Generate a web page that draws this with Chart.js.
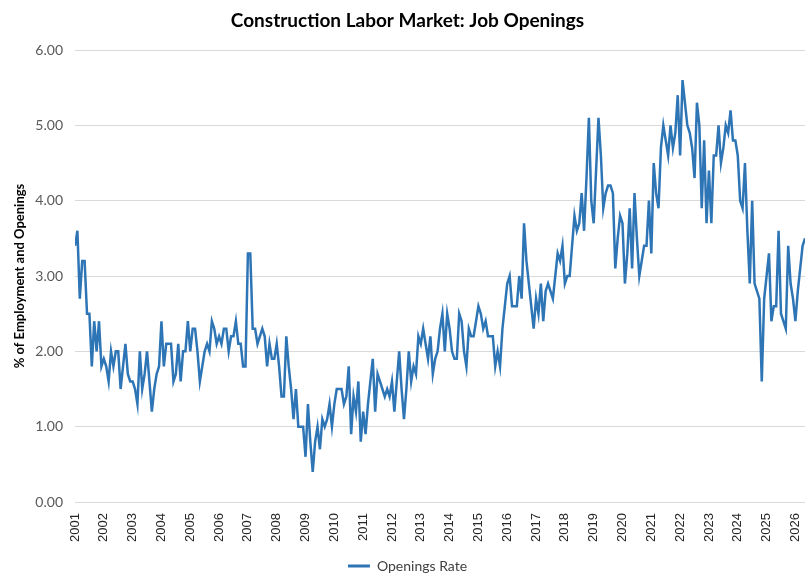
<!DOCTYPE html>
<html>
<head>
<meta charset="utf-8">
<script src="https://cdn.jsdelivr.net/npm/chart.js@4.4.1/dist/chart.umd.min.js"></script>
<style>
html,body{margin:0;padding:0;background:#ffffff;}
canvas{display:block;}
</style>
</head>
<body>
<canvas id="c" width="810" height="586"></canvas>
<script>
// Tick labels (one per January)
const yearLabels = [2001,2002,2003,2004,2005,2006,2007,2008,2009,2010,2011,2012,2013,
  2014,2015,2016,2017,2018,2019,2020,2021,2022,2023,2024,2025,2026];

// Monthly openings rate (% of employment and openings)
const rate2001 = [3.4, 3.6, 2.7, 3.2, 3.2, 2.5, 2.5, 1.8, 2.4, 2.0, 2.4, 1.8];
const rate2002 = [1.9, 1.8, 1.6, 2.0, 1.8, 2.0, 2.0, 1.5, 1.8, 2.1, 1.7, 1.6];
const rate2003 = [1.6, 1.5, 1.3, 2.0, 1.5, 1.7, 2.0, 1.6, 1.2, 1.5, 1.7, 1.8];
const rate2004 = [2.4, 1.8, 2.1, 2.1, 2.1, 1.6, 1.7, 2.1, 1.6, 2.0, 2.0, 2.4];
const rate2005 = [2.0, 2.3, 2.3, 2.0, 1.6, 1.8, 2.0, 2.1, 2.0, 2.4, 2.3, 2.1];
const rate2006 = [2.2, 2.1, 2.3, 2.3, 2.0, 2.2, 2.2, 2.4, 2.1, 2.1, 1.8, 1.8];
const rate2007 = [3.3, 3.3, 2.3, 2.3, 2.1, 2.2, 2.3, 2.2, 1.8, 2.1, 1.9, 1.9];
const rate2008 = [2.1, 1.8, 1.4, 1.4, 2.2, 1.8, 1.5, 1.1, 1.5, 1.0, 1.0, 1.0];
const rate2009 = [0.6, 1.3, 0.8, 0.4, 0.8, 1.0, 0.7, 1.1, 1.0, 1.1, 1.3, 1.0];
const rate2010 = [1.3, 1.5, 1.5, 1.5, 1.3, 1.4, 1.8, 0.9, 1.4, 1.2, 1.6, 0.8];
const rate2011 = [1.2, 0.9, 1.3, 1.6, 1.9, 1.2, 1.7, 1.6, 1.5, 1.4, 1.5, 1.4];
const rate2012 = [1.6, 1.2, 1.6, 2.0, 1.5, 1.1, 1.5, 2.0, 1.6, 1.8, 1.7, 2.2];
const rate2013 = [2.1, 2.3, 2.1, 1.9, 2.2, 1.7, 1.9, 2.0, 2.3, 2.5, 2.0, 2.5];
const rate2014 = [2.3, 2.0, 1.9, 1.9, 2.5, 2.4, 2.0, 1.8, 2.3, 2.2, 2.2, 2.4];
const rate2015 = [2.6, 2.5, 2.3, 2.4, 2.2, 2.2, 2.2, 1.8, 2.0, 1.8, 2.3, 2.6];
const rate2016 = [2.9, 3.0, 2.6, 2.6, 2.6, 3.0, 2.7, 3.7, 3.2, 2.9, 2.6, 2.3];
const rate2017 = [2.7, 2.5, 2.9, 2.4, 2.8, 2.9, 2.8, 2.7, 3.0, 3.3, 3.2, 3.4];
const rate2018 = [2.9, 3.0, 3.0, 3.4, 3.8, 3.6, 3.7, 4.1, 3.6, 4.3, 5.1, 4.0];
const rate2019 = [3.7, 4.4, 5.1, 4.6, 3.9, 4.1, 4.2, 4.2, 4.1, 3.1, 3.5, 3.8];
const rate2020 = [3.7, 2.9, 3.3, 3.9, 3.1, 4.1, 3.5, 3.0, 3.2, 3.4, 3.4, 4.0];
const rate2021 = [3.3, 4.5, 4.1, 3.9, 4.7, 5.0, 4.8, 4.6, 5.0, 4.7, 4.9, 5.4];
const rate2022 = [4.6, 5.6, 5.3, 5.0, 4.9, 4.7, 4.3, 5.3, 5.0, 3.9, 4.8, 3.7];
const rate2023 = [4.4, 3.7, 4.6, 4.6, 5.0, 4.5, 4.7, 5.0, 4.9, 5.2, 4.8, 4.8];
const rate2024 = [4.6, 4.0, 3.9, 4.5, 3.6, 2.9, 4.0, 2.9, 2.8, 2.7, 1.6, 2.7];
const rate2025 = [3.0, 3.3, 2.4, 2.6, 2.6, 3.6, 2.5, 2.4, 2.3, 3.4, 2.9, 2.7];
const rate2026 = [2.4, 2.8, 3.1, 3.4, 3.5];

const openingsRate = [].concat(rate2001, rate2002, rate2003, rate2004, rate2005,
  rate2006, rate2007, rate2008, rate2009, rate2010, rate2011, rate2012, rate2013,
  rate2014, rate2015, rate2016, rate2017, rate2018, rate2019, rate2020, rate2021,
  rate2022, rate2023, rate2024, rate2025, rate2026);

const yTicks = [0, 1, 2, 3, 4, 5, 6];

const lineColor = '#2E75B6';
const points = openingsRate.map((v, i) => ({ x: i, y: v }));

new Chart(document.getElementById('c'), {
  type: 'line',
  data: {
    datasets: [{
      label: 'Openings Rate',
      data: points,
      borderColor: lineColor,
      backgroundColor: lineColor,
      borderWidth: 2.5,
      pointRadius: 0,
      tension: 0,
      fill: false
    }]
  },
  options: {
    responsive: false,
    animation: false,
    layout: { padding: { left: 10, right: 5, top: 0, bottom: 3 } },
    plugins: {
      title: {
        display: true,
        text: 'Construction Labor Market: Job Openings',
        color: '#000000',
        font: { family: 'Lato', size: 19, weight: 'bold', lineHeight: 1.2 },
        padding: { top: 9, bottom: 18.2 }
      },
      legend: {
        display: true,
        position: 'bottom',
        labels: {
          color: '#404040',
          font: { family: 'Lato', size: 14 },
          boxWidth: 22,
          boxHeight: 3,
          padding: 10,
          generateLabels: (chart) => chart.data.datasets.map((ds, i) => ({
            text: ds.label,
            fillStyle: ds.borderColor,
            strokeStyle: ds.borderColor,
            lineWidth: 0,
            hidden: false,
            datasetIndex: i,
            fontColor: '#404040'
          }))
        }
      },
      tooltip: { enabled: false }
    },
    scales: {
      x: {
        type: 'linear',
        min: 0,
        max: openingsRate.length - 1,
        grid: { display: false, drawTicks: false },
        border: { display: false },
        afterFit: (scale) => { scale.height = 47; scale.paddingRight = 0; scale.paddingLeft = 0; },
        ticks: {
          stepSize: 12,
          includeBounds: false,
          autoSkip: false,
          maxRotation: 90,
          minRotation: 90,
          padding: 11,
          color: '#262626',
          font: { family: 'Liberation Sans', size: 13 },
          callback: (value) => {
            const idx = Math.round(value / 12);
            return (value % 12 === 0 && idx < yearLabels.length) ? String(yearLabels[idx]) : '';
          }
        }
      },
      y: {
        min: yTicks[0],
        max: yTicks[yTicks.length - 1],
        afterFit: (scale) => { scale.width = 65; },
        afterBuildTicks: (scale) => { scale.ticks = yTicks.map(v => ({ value: v })); },
        grid: { color: '#d9d9d9', lineWidth: 1, drawTicks: false },
        border: { display: false },
        ticks: {
          padding: 12,
          color: '#595959',
          font: { family: 'Lato', size: 14 },
          callback: (value) => Number(value).toFixed(2)
        },
        title: {
          display: true,
          text: '% of Employment and Openings',
          color: '#000000',
          font: { family: 'Lato', size: 13, weight: 'bold', lineHeight: 1.2 },
          padding: { top: 2, bottom: 0 }
        }
      }
    }
  }
});
</script>
</body>
</html>
